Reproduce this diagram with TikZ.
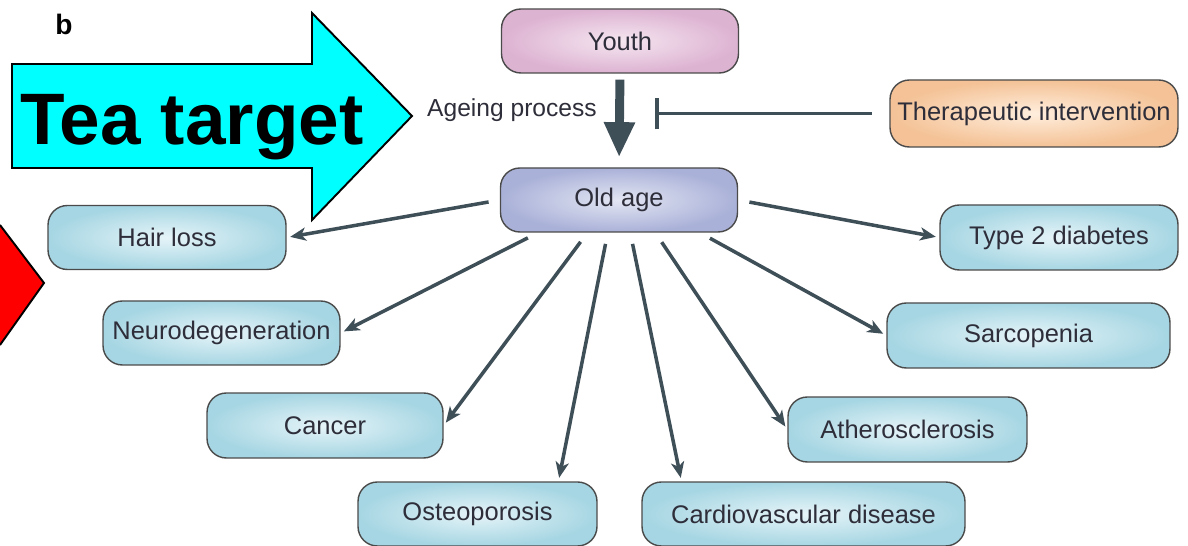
\documentclass[tikz,border=0pt]{standalone}
\usepackage{fontspec}
\setmainfont{Liberation Sans}
\usetikzlibrary{shapes, arrows.meta, positioning}

\definecolor{linegray}{HTML}{3F4F58}
\definecolor{labeltext}{HTML}{2E2E3A}
\definecolor{boxedge}{HTML}{4A4A4A}
\definecolor{bluein}{HTML}{E6F4F8}
\definecolor{blueout}{HTML}{A6D6E3}
\definecolor{pinkin}{HTML}{F5E6F0}
\definecolor{pinkout}{HTML}{DDB3D2}
\definecolor{lilacin}{HTML}{E3E6F3}
\definecolor{lilacout}{HTML}{AAB1D8}
\definecolor{peachin}{HTML}{FFEEDD}
\definecolor{peachout}{HTML}{F4C296}
\definecolor{teacyan}{RGB}{0,255,255}
\definecolor{teared}{RGB}{255,0,0}

\begin{document}
\begin{tikzpicture}[x=0.02cm, y=-0.02cm,
    box/.style={draw=boxedge, line width=0.8pt, rounded corners=11pt, minimum height=1.28cm, minimum width=4.74cm, inner sep=2pt, text=labeltext, font=\fontsize{14.5}{17}\selectfont},
    disease/.style={box, inner color=bluein, outer color=blueout},
    link/.style={draw=linegray, line width=2pt, -{Stealth[length=9pt, width=7.5pt, inset=2.5pt]}, shorten <=6.5pt, shorten >=2pt}]
    \useasboundingbox (0,0) rectangle (1188,546);
    % Pointer arrows
    \fill[teared] (0,225) -- (44,283) -- (0,345) -- cycle;
    \draw[line width=1.1pt] (0,225) -- (44,283) -- (0,345);
    \draw[fill=teacyan, line width=1.1pt] (12,64) -- (312,64) -- (312,13) -- (412,116) -- (312,220) -- (312,168) -- (12,168) -- cycle;
    \node (tea) [anchor=base, font=\bfseries\fontsize{41.5}{48}\selectfont] at (192,145) {Tea target};
    \node (panel) [anchor=base west, inner sep=0pt, font=\bfseries\fontsize{16}{19}\selectfont] at (55,35) {b};
    % Ageing
    \node (youth) [box, inner color=pinkin, outer color=pinkout] at (620,41) {Youth};
    \node (old) [box, inner color=lilacin, outer color=lilacout] at (619,200) {Old age};
    \node (ther) [box, minimum width=5.76cm, minimum height=1.34cm, inner color=peachin, outer color=peachout] at (1034,113.5) {Therapeutic intervention};
    \node (ageing) [anchor=base, text=labeltext, font=\fontsize{14}{17}\selectfont] at (512,117) {Ageing process};
    \coordinate (block) at (655,113.5);
    \draw[-{Triangle[length=20pt, width=16.5pt]}, draw=linegray, fill=linegray, line width=5.1pt, shorten <=3.4pt, shorten >=5.7pt] (youth.south) -- (old.north);
    \draw[-{Bar[width=18pt]}, draw=linegray, line width=2.2pt, shorten <=10pt] (ther.west) -- (block);
    % Diseases
    \node (hair) [disease, minimum width=4.76cm] at (167,237.5) {Hair loss};
    \node (neuro) [disease] at (221.5,333) {Neurodegeneration};
    \node (cancer) [disease, minimum width=4.72cm, minimum height=1.3cm] at (325,425.5) {Cancer};
    \node (osteo) [disease, minimum width=4.78cm] at (477.5,514) {Osteoporosis};
    \node (cardio) [disease, minimum width=6.46cm] at (803.5,514) {Cardiovascular disease};
    \node (athero) [disease, minimum width=4.78cm, minimum height=1.3cm] at (907.5,429.5) {Atherosclerosis};
    \node (sarco) [disease, minimum width=5.66cm, minimum height=1.3cm] at (1028.5,335.5) {Sarcopenia};
    \node (t2d) [disease, minimum width=4.76cm, minimum height=1.3cm] at (1059,237.5) {Type 2 diabetes};
    \draw[link] (old.west) -- (hair.east);
    \draw[link] (old.east) -- (t2d.west);
    \draw[link] (old.-158) -- (neuro.east);
    \draw[link] (old.-134) -- (cancer.east);
    \draw[link] (old.-109) -- (osteo.22);
    \draw[link] (old.-71) -- (cardio.165);
    \draw[link] (old.-42) -- (athero.west);
    \draw[link] (old.-22) -- (sarco.west);
\end{tikzpicture}
\end{document}
